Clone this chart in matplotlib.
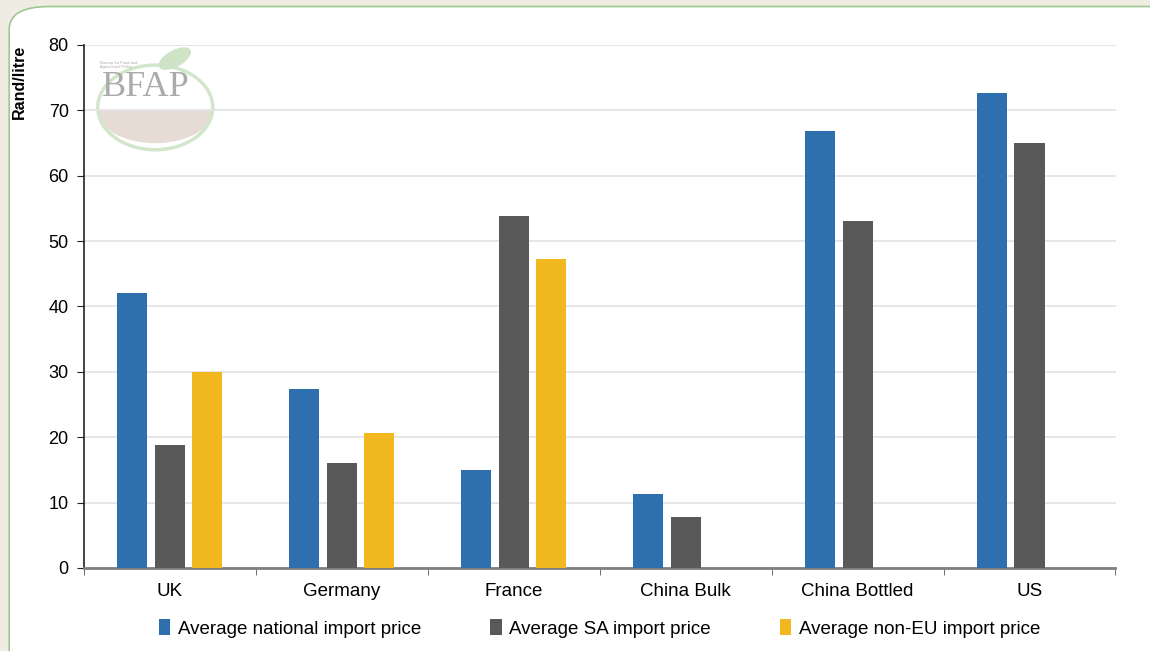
import numpy as np
import matplotlib.pyplot as plt
from matplotlib.patches import FancyBboxPatch, Ellipse, Wedge

plt.rcParams['font.family'] = ['Liberation Sans', 'DejaVu Sans']

# data
categories = ["UK", "Germany", "France", "China Bulk", "China Bottled", "US"]
national_price = [42.0, 27.3, 15.0, 11.3, 66.8, 72.6]
sa_price = [18.8, 16.1, 53.9, 7.8, 53.0, 65.0]
non_eu_price = [30.0, 20.7, 47.2, np.nan, np.nan, np.nan]
series_names = ["Average national import price", "Average SA import price",
                "Average non-EU import price"]
colors = ["#2e6fad", "#595959", "#f2b81f"]

fig = plt.figure(figsize=(11.5, 6.51), dpi=100)
fig.patch.set_facecolor("#efece4")

# rounded white panel
panel = FancyBboxPatch((0.008, -0.05), 1.05, 1.04, boxstyle="round,pad=0,rounding_size=0.035",
                       transform=fig.transFigure, facecolor="white", edgecolor="#9cc98f",
                       linewidth=1.2, zorder=-3)
fig.patches.append(panel)

# faint BFAP watermark
fig.patches.append(Wedge((0.135, 0.83), 0.05, 180, 360, transform=fig.transFigure,
                         facecolor="#e6dcd5", edgecolor="none", zorder=-2))
fig.patches.append(Ellipse((0.135, 0.835), 0.1, 0.13, transform=fig.transFigure,
                           facecolor="none", edgecolor="#d3e6cc", linewidth=2.5, zorder=-2))
fig.patches.append(Ellipse((0.152, 0.91), 0.02, 0.04, angle=-35, transform=fig.transFigure,
                           facecolor="#cfe3c6", edgecolor="none", zorder=-2))
fig.text(0.127, 0.865, "BFAP", fontsize=26, family="Liberation Serif", color="#aaaaaa",
         ha="center", va="center", zorder=-1)
fig.text(0.087, 0.9, "Bureau for Food and\nAgricultural Policy", fontsize=3, color="#aaaaaa",
         ha="left", va="center", zorder=-1)

ax = fig.add_axes([0.073, 0.1275, 0.897, 0.8035])
ax.set_facecolor("none")
ax.set_zorder(2)

x = np.arange(len(categories))
w = 0.175
step = 0.218
for i, vals in enumerate([national_price, sa_price, non_eu_price]):
    ax.bar(x + (i - 1) * step, vals, width=w, color=colors[i], label=series_names[i], zorder=3)

ax.set_xlim(-0.5, len(categories) - 0.5)
ax.set_ylim(0, 80)
ax.set_yticks(range(0, 81, 10))
ax.grid(axis="y", color="#e3e3e3", linewidth=1.2, zorder=0)
ax.set_axisbelow(True)

ax.set_xticks(x)
ax.set_xticklabels(categories, fontsize=13.5)
ax.tick_params(axis="x", length=0, pad=11)
ax.set_xticks(np.arange(-0.5, len(categories)), minor=True)
ax.tick_params(axis="x", which="minor", length=5, color="#555555", direction="out")
ax.tick_params(axis="y", labelsize=13, length=5, color="#222222", pad=6)

for s in ["top", "right"]:
    ax.spines[s].set_visible(False)
ax.spines["left"].set_color("#222222")
ax.spines["left"].set_linewidth(1.2)
ax.spines["bottom"].set_color("#7f7f7f")
ax.spines["bottom"].set_linewidth(2)

ax.set_ylabel("Rand/litre", fontsize=11.5, fontweight="bold")
ax.yaxis.set_label_coords(-0.055, 0.93)

ax.legend(loc="upper center", bbox_to_anchor=(0.5, -0.066), ncol=3, frameon=False,
          fontsize=13.5, handlelength=0.6, handleheight=0.9, columnspacing=3.7, handletextpad=0.4)

fig.savefig("out.png", dpi=100, facecolor=fig.get_facecolor())
